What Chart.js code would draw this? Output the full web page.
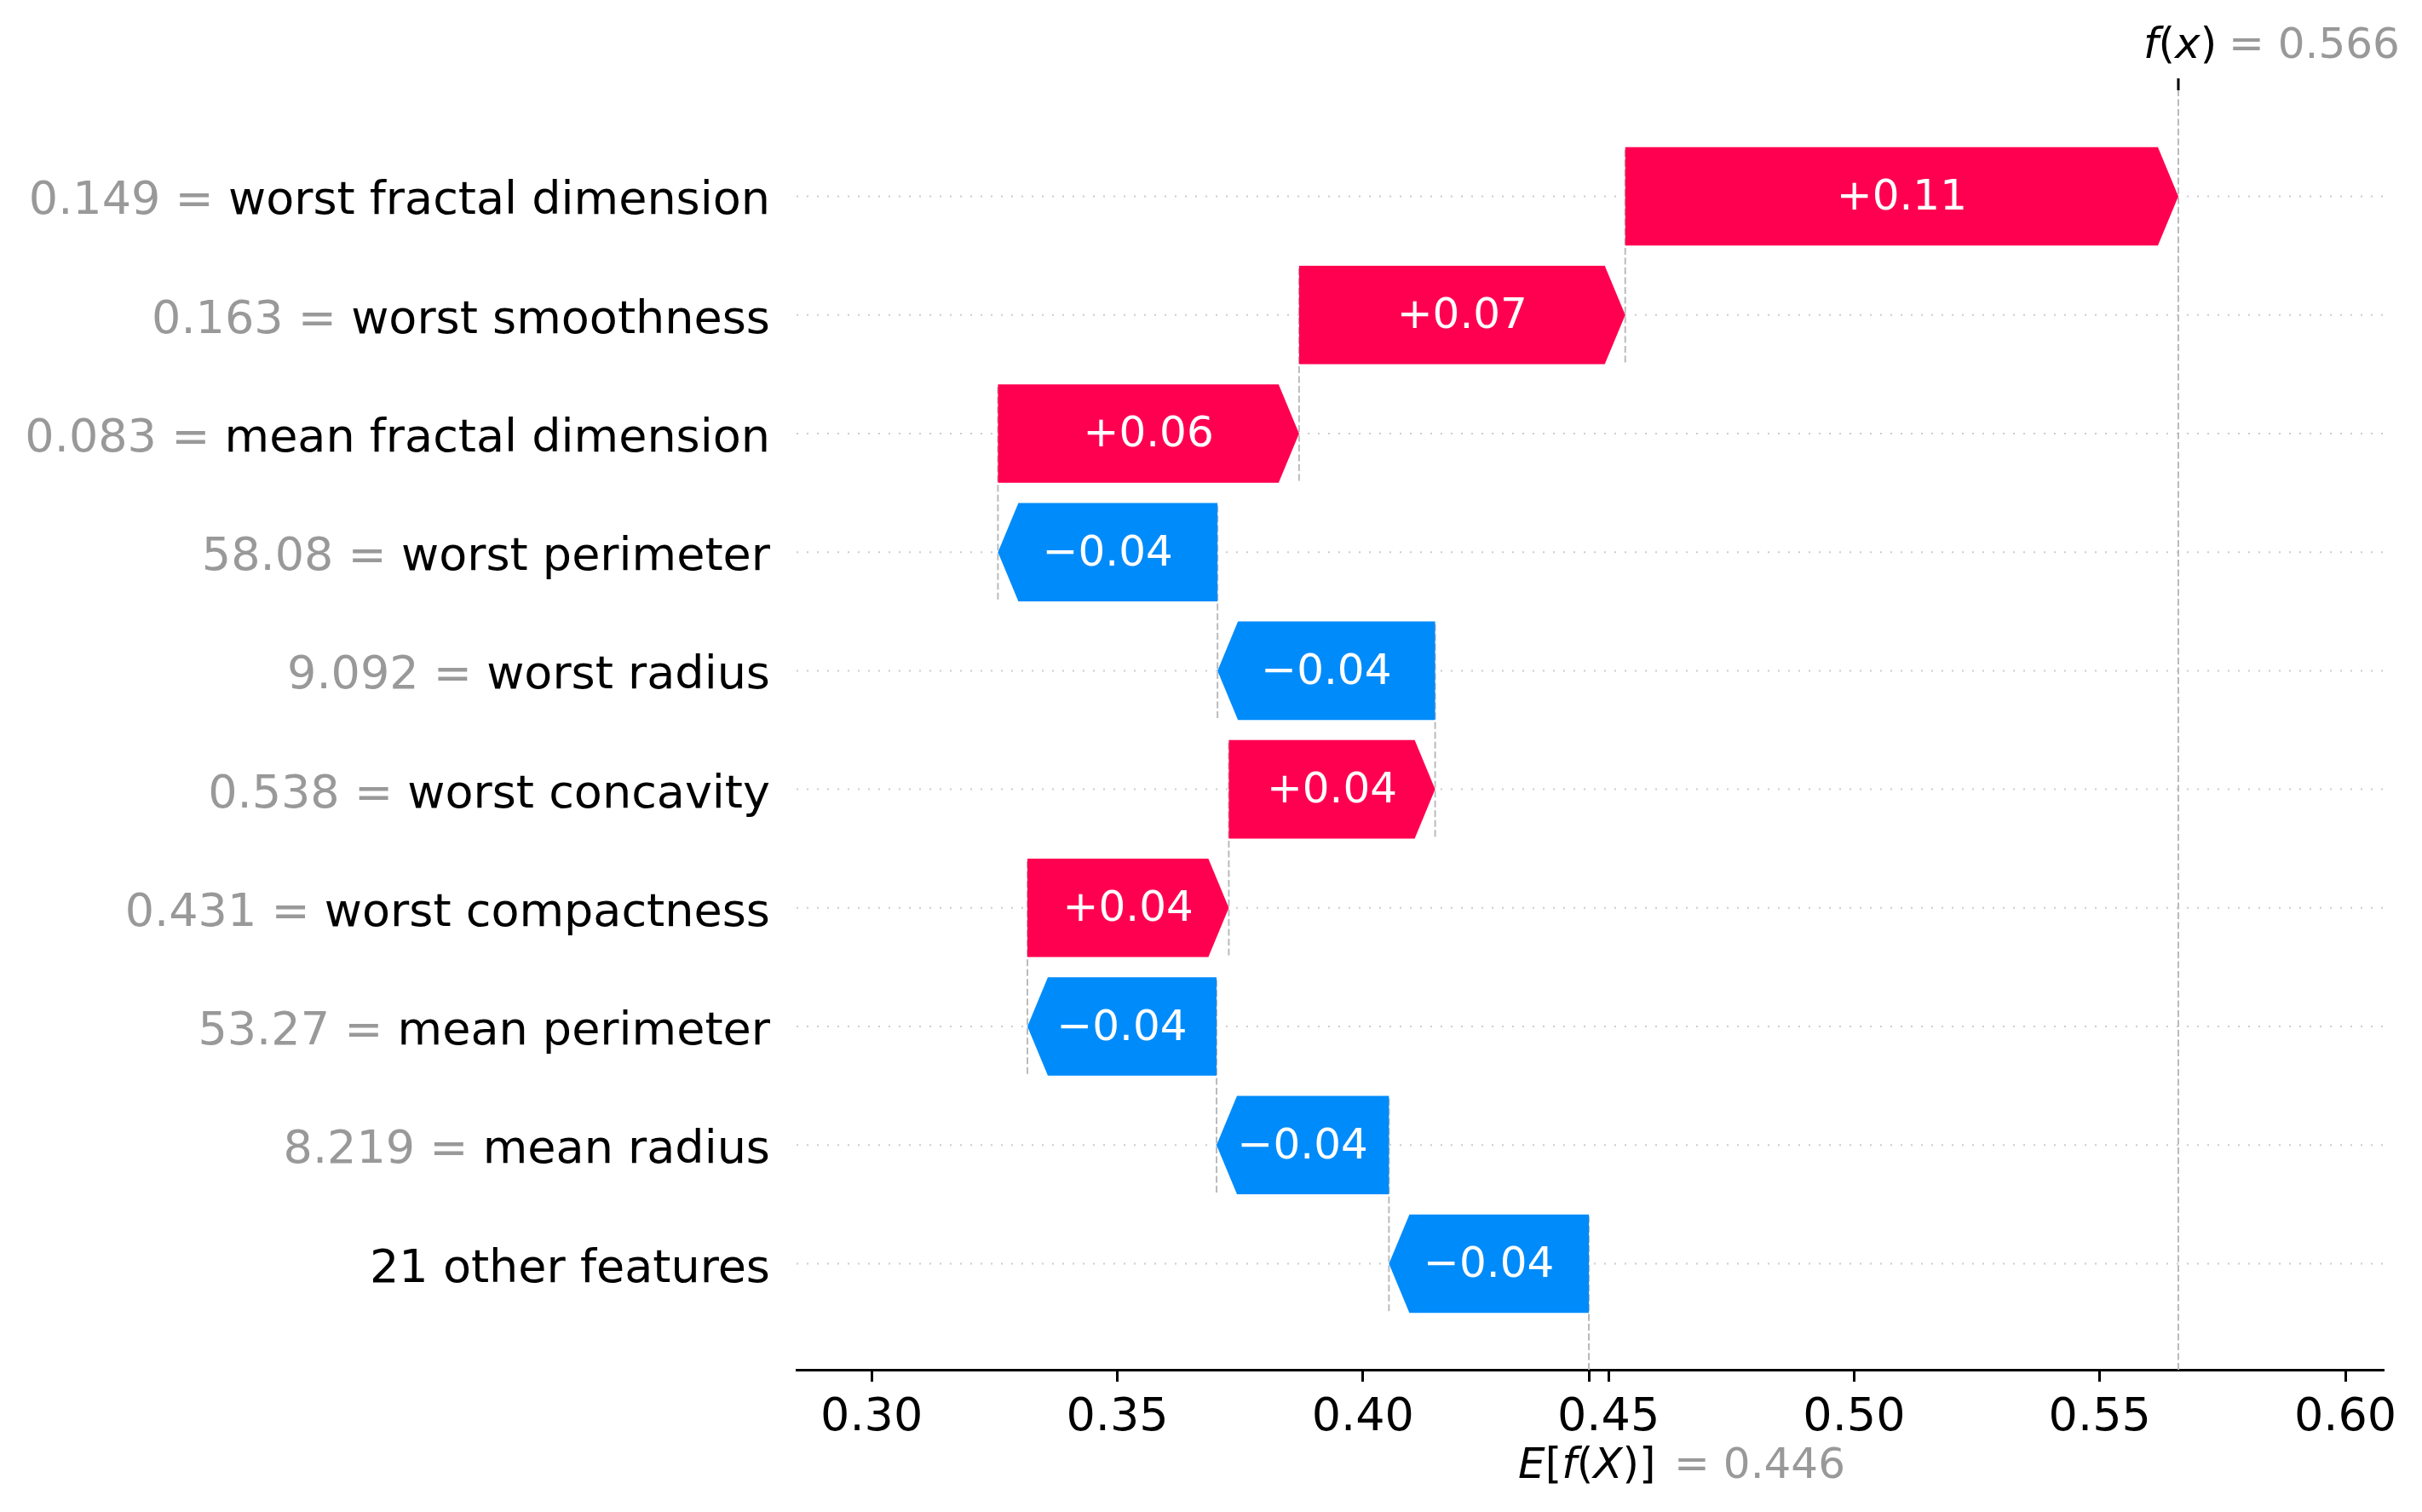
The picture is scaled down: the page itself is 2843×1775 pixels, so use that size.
<!DOCTYPE html>
<html>
<head>
<meta charset="utf-8">
<script src="https://cdn.jsdelivr.net/npm/chart.js@4"></script>
<style>
  html, body { margin: 0; padding: 0; background: #fff; }
  canvas { display: block; }
</style>
</head>
<body>
<canvas id="waterfall" width="2843" height="1775"></canvas>
<script>
// rows from top to bottom
const featureNames = [
  'worst fractal dimension', 'worst smoothness', 'mean fractal dimension',
  'worst perimeter', 'worst radius', 'worst concavity', 'worst compactness',
  'mean perimeter', 'mean radius', '21 other features'
];
const featureValues = ['0.149', '0.163', '0.083', '58.08', '9.092', '0.538', '0.431', '53.27', '8.219', ''];
const shapValues = [0.1126, 0.0664, 0.0613, -0.0447, -0.0443, 0.042, 0.041, -0.0385, -0.0351, -0.0407];
const barLabels = ['+0.11', '+0.07', '+0.06', '\u22120.04', '\u22120.04', '+0.04', '+0.04', '\u22120.04', '\u22120.04', '\u22120.04'];
const baseValue = 0.446;
const fxValue = 0.566;
const baseText = '= 0.446';
const fxText = '= 0.566';
const xTicks = [0.30, 0.35, 0.40, 0.45, 0.50, 0.55, 0.60];

const RED = '#ff0051';
const BLUE = '#008bfb';
const FONT = '"DejaVu Sans"';
const BAR_HALF = 0.415; // half bar height, in row units

// walk up from the expected value to get each bar's start/end
const starts = [];
const ends = [];
let loc = baseValue;
for (let i = shapValues.length - 1; i >= 0; i--) {
  starts[i] = loc;
  loc += shapValues[i];
  ends[i] = loc;
}

function line(ctx, x0, y0, x1, y1) {
  ctx.beginPath();
  ctx.moveTo(x0, y0);
  ctx.lineTo(x1, y1);
  ctx.stroke();
}

// mathtext-like label: italic letters, upright brackets
function drawMath(ctx, parts, x, baseline, size) {
  parts.forEach(([t, italic]) => {
    ctx.font = (italic ? 'italic ' : '') + size + 'px ' + FONT;
    ctx.fillText(t, x, baseline);
    x += ctx.measureText(t).width;
  });
}

const waterfallPlugin = {
  id: 'waterfall',
  beforeDatasetsDraw(chart) {
    const { ctx, chartArea: area, scales: { x, y } } = chart;
    ctx.save();
    ctx.lineWidth = 2;

    // dotted row guides
    ctx.strokeStyle = '#cccccc';
    ctx.setLineDash([2, 10]);
    featureNames.forEach((_, i) => {
      const py = y.getPixelForValue(i);
      line(ctx, area.left, py, area.right, py);
    });

    // dashed connectors between consecutive bars
    ctx.strokeStyle = '#bbbbbb';
    ctx.setLineDash([8, 3.5]);
    starts.forEach((s, i) => {
      const px = x.getPixelForValue(s);
      const y0 = Math.min(area.bottom, y.getPixelForValue(i + 1.4));
      const y1 = Math.max(area.top, y.getPixelForValue(i - 0.4));
      line(ctx, px, y0, px, y1);
    });

    const fxPx = x.getPixelForValue(fxValue);
    line(ctx, fxPx, area.bottom, fxPx, area.top);
    const bPx = x.getPixelForValue(baseValue);
    line(ctx, bPx, area.bottom, bPx, area.bottom - area.height / featureNames.length);
    ctx.restore();
  },
  afterDatasetsDraw(chart) {
    const { ctx, scales } = chart;
    const meta = chart.getDatasetMeta(0);
    const headLen = 24;
    ctx.save();
    meta.data.forEach((bar, i) => {
      const { x, y, base } = bar.getProps(['x', 'y', 'base'], true);
      const left = Math.min(x, base);
      const right = Math.max(x, base);
      const top = scales.y.getPixelForValue(i - BAR_HALF);
      const bottom = scales.y.getPixelForValue(i + BAR_HALF);
      const hl = Math.min(headLen, right - left);
      ctx.beginPath();
      if (shapValues[i] >= 0) {
        ctx.moveTo(left, top);
        ctx.lineTo(right - hl, top);
        ctx.lineTo(right, y);
        ctx.lineTo(right - hl, bottom);
        ctx.lineTo(left, bottom);
        ctx.fillStyle = RED;
      } else {
        ctx.moveTo(right, top);
        ctx.lineTo(left + hl, top);
        ctx.lineTo(left, y);
        ctx.lineTo(left + hl, bottom);
        ctx.lineTo(right, bottom);
        ctx.fillStyle = BLUE;
      }
      ctx.closePath();
      ctx.fill();

      ctx.fillStyle = '#ffffff';
      ctx.font = '50px ' + FONT;
      ctx.textAlign = 'center';
      ctx.textBaseline = 'alphabetic';
      ctx.fillText(barLabels[i], (left + right) / 2, y + 15.5);
    });
    ctx.restore();
  },
  afterDraw(chart) {
    const { ctx, chartArea: area, scales: { x, y } } = chart;
    ctx.save();

    // y labels: gray value, black feature name
    ctx.font = '54px ' + FONT;
    ctx.textBaseline = 'alphabetic';
    ctx.textAlign = 'right';
    const labelRight = area.left - 31;
    featureNames.forEach((name, i) => {
      const py = y.getPixelForValue(i) + 21;
      ctx.fillStyle = '#000000';
      ctx.fillText(name, labelRight, py);
      if (featureValues[i]) {
        const w = ctx.measureText(name).width;
        ctx.fillStyle = '#999999';
        ctx.fillText(featureValues[i] + ' = ', labelRight - w, py);
      }
    });

    // f(x) marker on top
    const fxPx = x.getPixelForValue(fxValue);
    ctx.strokeStyle = '#000000';
    ctx.lineWidth = 3;
    line(ctx, fxPx, area.top, fxPx, area.top - 14);
    ctx.textAlign = 'left';
    ctx.fillStyle = '#000000';
    drawMath(ctx, [['f', 1], ['(', 0], ['x', 1], [')', 0]], fxPx - 41, 68, 50);
    ctx.fillStyle = '#999999';
    ctx.font = '50px ' + FONT;
    ctx.fillText(fxText, fxPx + 59, 68);

    // E[f(X)] below the axis
    const bPx = x.getPixelForValue(baseValue);
    ctx.fillStyle = '#000000';
    drawMath(ctx, [['E', 1], ['[', 0], ['f', 1], ['(', 0], ['X', 1], [')', 0], [']', 0]], bPx - 83, 1735, 50);
    ctx.fillStyle = '#999999';
    ctx.font = '50px ' + FONT;
    ctx.fillText(baseText, bPx + 100, 1735);
    ctx.restore();
  }
};

new Chart(document.getElementById('waterfall'), {
  type: 'bar',
  data: {
    datasets: [{
      data: featureNames.map((n, i) => ({ y: i, x: [starts[i], ends[i]] })),
      backgroundColor: 'rgba(0,0,0,0)',
      barPercentage: 0.83,
      categoryPercentage: 1
    }]
  },
  options: {
    responsive: false,
    devicePixelRatio: 1,
    animation: false,
    indexAxis: 'y',
    layout: { padding: { left: 935, right: 45, top: 106, bottom: 67 } },
    plugins: { legend: { display: false }, tooltip: { enabled: false } },
    scales: {
      x: {
        type: 'linear',
        min: 0.2847,
        max: 0.6078,
        afterBuildTicks: s => {
          s.ticks = [...xTicks, baseValue].sort((a, b) => a - b).map(v => ({ value: v }));
        },
        afterFit: s => { s.height = 100; },
        grid: { display: true, drawOnChartArea: false, drawTicks: true, tickLength: 14, tickWidth: 3, tickColor: '#000' },
        border: { display: true, color: '#000', width: 3 },
        ticks: {
          font: { family: 'DejaVu Sans', size: 54 },
          color: '#000',
          padding: 11,
          maxRotation: 0,
          autoSkip: false,
          callback: v => xTicks.includes(v) ? v.toFixed(2) : ''
        }
      },
      y: { type: 'linear', min: -0.894, max: 9.894, reverse: true, offset: false, display: false }
    }
  },
  plugins: [waterfallPlugin]
});
</script>
</body>
</html>
